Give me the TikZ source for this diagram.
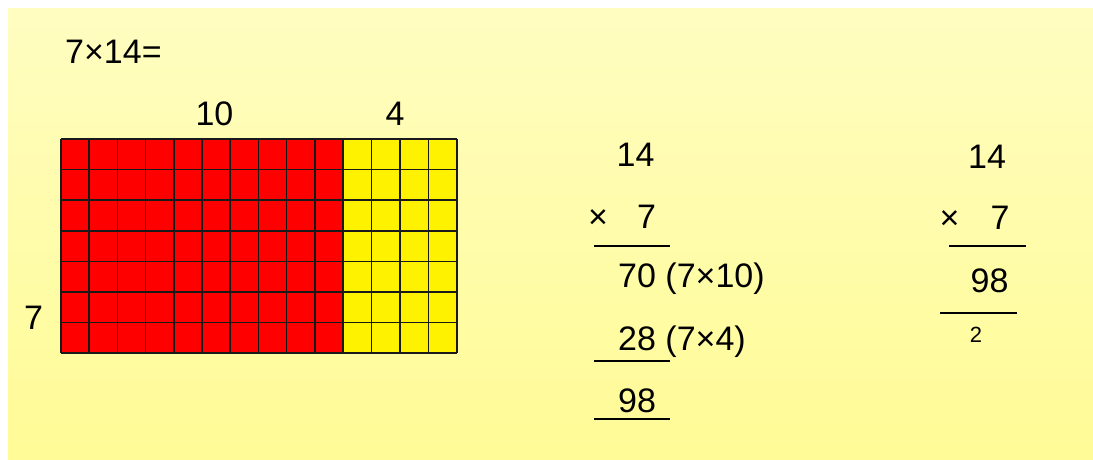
\documentclass[tikz,border=0pt]{standalone}
\usepackage{fontspec}
\setmainfont{Liberation Sans}
\begin{document}
\begin{tikzpicture}[x=1pt,y=-1pt,
  lbl/.style={inner sep=0pt, font=\fontsize{34}{40}\selectfont},
  tiny/.style={inner sep=0pt, font=\fontsize{22}{26}\selectfont},
  rule/.style={line width=1.3pt},
  gridline/.style={line width=1.5pt, draw=black!90}]
\useasboundingbox (0,0) rectangle (1093,460);
\shade[top color={rgb,255:red,255;green,253;blue,192}, bottom color={rgb,255:red,255;green,251;blue,150}] (8,9) rectangle (1093,460);
% area model
\fill[red] (61,139) rectangle (343,353);
\fill[yellow] (343,139) rectangle (457,353);
\foreach \i in {0,...,10} \draw[gridline] ({61+28.2*\i},139) -- ({61+28.2*\i},353);
\foreach \i in {1,...,4} \draw[gridline] ({343+28.5*\i},139) -- ({343+28.5*\i},353);
\foreach \j in {0,...,7} \draw[gridline] (61,{139+30.6*\j}) -- (457,{139+30.6*\j});
% labels
\node[lbl, anchor=base west] (eq) at (65,64) {7×14=};
\node[lbl, anchor=base] (ten) at (214.5,125) {10};
\node[lbl, anchor=base] (four) at (395,125) {4};
\node[lbl, anchor=base] (seven) at (33.5,329) {7};
% middle column
\node[lbl, anchor=base] (m14) at (635.5,166) {14};
\node[lbl, anchor=base] (mx) at (598,228) {×};
\node[lbl, anchor=base] (m7) at (646.5,228) {7};
\draw[rule] (594,246) -- (670,246);
\node[lbl, anchor=base west] (m70) at (618,287) {70 (7×10)};
\node[lbl, anchor=base west] (m28) at (618,350) {28 (7×4)};
\draw[rule] (594,361) -- (670,361);
\node[lbl, anchor=base west] (m98) at (618,412) {98};
\draw[rule] (594,419) -- (670,419);
% right column
\node[lbl, anchor=base] (r14) at (987,168) {14};
\node[lbl, anchor=base] (rx) at (949.5,229) {×};
\node[lbl, anchor=base] (r7) at (1000,229) {7};
\draw[rule] (949,246) -- (1026,246);
\node[lbl, anchor=base] (r98) at (989.5,292) {98};
\draw[rule] (940,313) -- (1017,313);
\node[tiny, anchor=base] (r2) at (976,342) {2};
\end{tikzpicture}
\end{document}
